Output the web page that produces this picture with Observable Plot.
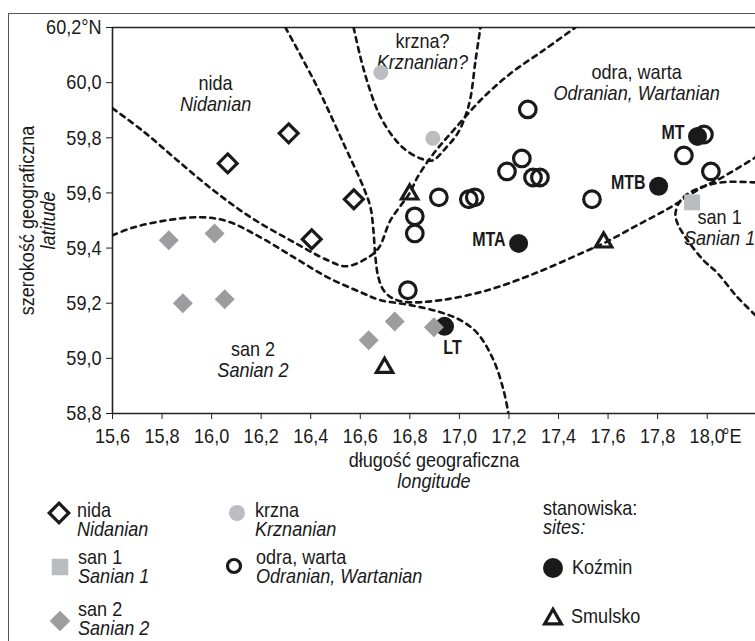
<!DOCTYPE html>
<html><head><meta charset="utf-8">
<script src="https://cdn.jsdelivr.net/npm/d3@7"></script>
<script src="https://cdn.jsdelivr.net/npm/@observablehq/plot@0.6"></script>
<style>
body{margin:0;background:#fff;}
#wrap{position:relative;width:755px;height:641px;overflow:hidden;font-family:"Liberation Sans",Arial,sans-serif;font-size:21px;color:#1a1a1a;}
#chart{position:absolute;left:0;top:0;}
#frame{position:absolute;left:8px;top:13px;width:800px;height:700px;border-left:1.5px solid #555;border-top:1.5px solid #555;}
.lg{position:absolute;line-height:19px;white-space:nowrap;transform:scaleX(0.86);transform-origin:0 0;}
.sym{position:absolute;overflow:visible;}
</style></head><body>
<div id="wrap"><div id="chart"></div><div id="frame"></div><div id="legend"></div></div>
<script>
// ---------- data ----------
const xTicks = [15.6,15.8,16.0,16.2,16.4,16.6,16.8,17.0,17.2,17.4,17.6,17.8,18.0];
const yTicks = [58.8,59.0,59.2,59.4,59.6,59.8,60.0,60.2];

// nida (Nidanian) – open diamonds
const nidaLon = [16.065,16.311,16.574,16.404];
const nidaLat = [59.707,59.816,59.577,59.432];
// san 1 (Sanian 1) – grey square
const san1Lon = [17.939];
const san1Lat = [59.566];
// san 2 (Sanian 2) – grey diamonds
const san2Lon = [15.827,16.012,15.884,16.053,16.634,16.739,16.897];
const san2Lat = [59.428,59.453,59.200,59.214,59.066,59.134,59.113];
// krzna (Krznanian) – light grey dots
const krznaLon = [16.683,16.893];
const krznaLat = [60.037,59.798];
// odra, warta (Odranian, Wartanian) – open circles
const odraLon = [17.276,17.252,17.192,17.297,17.325,16.917,17.038,17.062,16.820,16.820,16.792,17.535,17.906,17.987,18.015];
const odraLat = [59.903,59.725,59.678,59.656,59.656,59.584,59.577,59.584,59.515,59.453,59.247,59.577,59.736,59.812,59.678];
// sites: Koźmin
const kozminName = ["MT","MTB","MTA","LT"];
const kozminLon = [17.961,17.804,17.239,16.940];
const kozminLat = [59.805,59.624,59.417,59.116];
// sites: Smulsko
const smulskoLon = [16.799,17.582,16.698];
const smulskoLat = [59.595,59.421,58.966];

// region labels
const regionPl = ["nida","krzna?","odra, warta","san 1","san 2"];
const regionEn = ["Nidanian","Krznanian?","Odranian, Wartanian","Sanian 1","Sanian 2"];
const regionLon = [16.016,16.851,17.715,18.050,16.167];
const regionLat = [59.959,60.113,60.001,59.473,58.995];

// dashed region boundaries [lon, lat]
const nidaBoundary = [[15.6,59.907],[15.725,59.823],[15.862,59.718],[16.008,59.609],[16.157,59.512],[16.318,59.428],[16.468,59.356],[16.540,59.334],[16.613,59.356],[16.673,59.399],[16.722,59.501],[16.799,59.599],[16.831,59.657],[16.896,59.743],[16.976,59.827],[17.085,59.936],[17.206,60.033],[17.339,60.117],[17.468,60.2]];
const odraBoundary = [[16.298,60.2],[16.427,59.983],[16.532,59.780],[16.613,59.620],[16.641,59.548],[16.653,59.464],[16.661,59.367],[16.673,59.294],[16.694,59.247],[16.730,59.218],[16.790,59.204],[16.924,59.211],[17.113,59.247],[17.315,59.312],[17.501,59.385],[17.581,59.417],[17.718,59.483],[17.852,59.548],[17.973,59.617],[18.054,59.653],[18.195,59.729]];
const san2Boundary = [[15.6,59.446],[15.685,59.475],[15.822,59.501],[15.955,59.512],[16.064,59.497],[16.197,59.439],[16.331,59.367],[16.468,59.294],[16.601,59.240],[16.682,59.211],[16.803,59.193],[16.924,59.167],[17.005,59.138],[17.073,59.091],[17.138,58.993],[17.178,58.885],[17.198,58.8]];
const krznaBoundary = [[16.573,60.2],[16.601,60.091],[16.633,59.990],[16.673,59.892],[16.722,59.816],[16.775,59.762],[16.843,59.725],[16.892,59.718],[16.944,59.762],[16.993,59.816],[17.025,59.881],[17.045,59.946],[17.065,60.080],[17.085,60.2]];
const san1Boundary = [[18.195,59.638],[18.054,59.638],[17.945,59.609],[17.893,59.573],[17.872,59.526],[17.880,59.490],[17.921,59.428],[17.985,59.356],[18.042,59.309],[18.115,59.229],[18.195,59.156]];

// ---------- tables ----------
const pts = (lon, lat) => lon.map((x, i) => ({lon: x, lat: lat[i]}));
const nida = pts(nidaLon, nidaLat), san1 = pts(san1Lon, san1Lat), san2 = pts(san2Lon, san2Lat);
const krzna = pts(krznaLon, krznaLat), odra = pts(odraLon, odraLat), smulsko = pts(smulskoLon, smulskoLat);
const kozmin = kozminName.map((n, i) => ({name: n, lon: kozminLon[i], lat: kozminLat[i]}));
const regions = regionPl.map((p, i) => ({pl: p, en: regionEn[i], lon: regionLon[i], lat: regionLat[i]}));
const boundaries = [nidaBoundary, odraBoundary, san2Boundary, krznaBoundary, san1Boundary];

const fmt = v => v.toFixed(1).replace(".", ",");
const INK = "#1a1a1a";
const FS = 21;

const chart = Plot.plot({
  width: 755, height: 500,
  marginLeft: 112, marginRight: 0, marginTop: 27, marginBottom: 87,
  style: `background: transparent; overflow: visible; font-family: "Liberation Sans", Arial, sans-serif; font-size: ${FS}px; color: ${INK};`,
  x: {domain: [15.6, 18.195], label: null},
  y: {domain: [58.8, 60.2], label: null},
  marks: [
    Plot.ruleY([60.2], {stroke: "#222", strokeWidth: 1.6}),
    Plot.ruleY([58.8], {stroke: "#222", strokeWidth: 1.6}),
    Plot.ruleX([15.6], {stroke: "#222", strokeWidth: 1.6}),
    Plot.axisY(yTicks, {tickSize: 6, tickPadding: 5, fontSize: FS, stroke: "#222", tickFormat: v => v === 60.2 ? "60,2°N" : fmt(v), label: null}),
    Plot.axisX(xTicks, {tickSize: 6, tickPadding: 9, fontSize: FS, stroke: "#222", tickFormat: fmt, label: null}),
    Plot.text([18.0], {x: d => d, frameAnchor: "bottom", text: () => "°E", textAnchor: "start", lineAnchor: "top", dx: 15, dy: 15, fontSize: FS, fill: INK}),
    Plot.text(["długość geograficzna"], {text: d => d, frameAnchor: "bottom", textAnchor: "middle", lineAnchor: "middle", dy: 47, fontSize: FS, fill: INK}),
    Plot.text(["longitude"], {text: d => d, frameAnchor: "bottom", textAnchor: "middle", lineAnchor: "middle", dy: 68, fontSize: FS, fontStyle: "italic", fill: INK}),
    Plot.text(["szerokość geograficzna"], {text: d => d, frameAnchor: "left", textAnchor: "middle", lineAnchor: "middle", rotate: -90, dx: -85, fontSize: FS, fill: INK}),
    Plot.text(["latitude"], {text: d => d, frameAnchor: "left", textAnchor: "middle", lineAnchor: "middle", rotate: -90, dx: -64, fontSize: FS, fontStyle: "italic", fill: INK}),
    Plot.text(regions, {x: "lon", y: "lat", text: "pl", dy: -10.5, fontSize: FS, fill: INK}),
    Plot.text(regions, {x: "lon", y: "lat", text: "en", dy: 10.5, fontSize: FS, fontStyle: "italic", fill: INK}),
    ...boundaries.map(b => Plot.line(b, {x: d => d[0], y: d => d[1], curve: "catmull-rom", stroke: "#141414", strokeWidth: 2.6, strokeDasharray: "5,5", clip: true})),
    Plot.dot(odra, {x: "lon", y: "lat", r: 8.3, stroke: INK, strokeWidth: 3.2, fill: "none"}),
    Plot.dot(krzna, {x: "lon", y: "lat", r: 7.5, fill: "#bcbdc0", stroke: "none"}),
    Plot.dot(nida, {x: "lon", y: "lat", symbol: "diamond2", r: 8.5, stroke: INK, strokeWidth: 3.2, fill: "none"}),
    Plot.dot(san1, {x: "lon", y: "lat", symbol: "square", r: 9, fill: "#bbbcbf", stroke: "none"}),
    Plot.dot(kozmin, {x: "lon", y: "lat", r: 9.5, fill: INK, stroke: "none"}),
    Plot.dot(san2, {x: "lon", y: "lat", symbol: "diamond2", r: 9, fill: "#9d9d9f", stroke: "none"}),
    Plot.dot(smulsko, {x: "lon", y: "lat", symbol: "triangle2", r: 7.8, stroke: INK, strokeWidth: 3.2, fill: "none", strokeLinejoin: "miter"}),
    Plot.text(kozmin.filter(d => d.name !== "LT"), {x: "lon", y: "lat", text: "name", textAnchor: "end", dx: -13, dy: -4, fontSize: 20, fontWeight: "bold", fill: INK}),
    Plot.text(kozmin.filter(d => d.name === "LT"), {x: "lon", y: "lat", text: "name", dx: 8, dy: 21, fontSize: 20, fontWeight: "bold", fill: INK})
  ]
});
document.getElementById("chart").appendChild(chart);

// condense the text horizontally (the reference uses a condensed typeface)
chart.querySelectorAll("text").forEach(t => {
  const w = t.getComputedTextLength();
  if (w > 0) {
    const bold = (t.getAttribute("font-weight") || (t.parentNode && t.parentNode.getAttribute && t.parentNode.getAttribute("font-weight"))) === "bold";
    t.setAttribute("textLength", (w * (bold ? 0.8 : 0.86)).toFixed(2));
    t.setAttribute("lengthAdjust", "spacingAndGlyphs");
  }
});

// ---------- legend ----------
const legend = document.getElementById("legend");
function addSym(type, r, fill, stroke, sw, cx, cy) {
  const s = d3.create("svg").attr("class", "sym").attr("width", 40).attr("height", 40)
    .style("left", (cx - 20) + "px").style("top", (cy - 20) + "px");
  if (type === "circle") {
    s.append("circle").attr("cx", 20).attr("cy", 20).attr("r", r).attr("fill", fill).attr("stroke", stroke).attr("stroke-width", sw);
  } else {
    s.append("path").attr("transform", "translate(20,20)").attr("d", d3.symbol(type, Math.PI * r * r)())
      .attr("fill", fill).attr("stroke", stroke).attr("stroke-width", sw).attr("stroke-linejoin", "miter");
  }
  legend.appendChild(s.node());
}
function addText(x, yc, lines) {
  const d = document.createElement("div");
  d.className = "lg";
  d.style.left = x + "px";
  d.style.top = (yc - 9.6) + "px";
  d.innerHTML = lines.map(([t, it]) => `<div style="font-style:${it ? "italic" : "normal"}">${t}</div>`).join("");
  legend.appendChild(d);
}
addSym(d3.symbolDiamond2, 8.8, "none", INK, 3.2, 59, 513);
addText(77, 510, [["nida"], ["Nidanian", 1]]);
addSym(d3.symbolSquare, 9.3, "#bbbcbf", "none", 0, 60, 567);
addText(78, 557, [["san 1"], ["Sanian 1", 1]]);
addSym(d3.symbolDiamond2, 9.3, "#9d9d9f", "none", 0, 60, 621);
addText(78, 609, [["san 2"], ["Sanian 2", 1]]);
addSym("circle", 8, "#bcbdc0", "none", 0, 237, 513);
addText(255, 510, [["krzna"], ["Krznanian", 1]]);
addSym("circle", 6.5, "none", INK, 3.2, 234, 566);
addText(256, 557, [["odra, warta"], ["Odranian, Wartanian", 1]]);
addText(543, 508, [["stanowiska:"], ["sites:", 1]]);
addSym("circle", 10, INK, "none", 0, 553, 568);
addText(572, 567, [["Koźmin"]]);
addSym(d3.symbolTriangle2, 8, "none", INK, 3.2, 553, 619);
addText(571, 616, [["Smulsko"]]);
</script>
</body></html>
